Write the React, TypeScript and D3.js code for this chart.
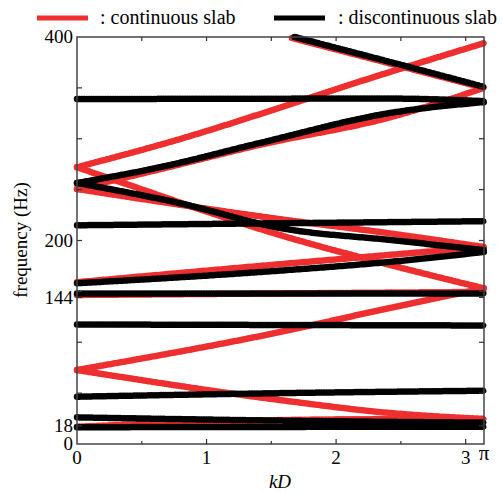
import { useEffect, useRef } from "react";
import * as d3 from "d3";

// axis ticks
const kLabels = [0, 1, 2, 3];
const kMinorTicks = [0.5, 1, 1.5, 2, 2.5, 3];
const fLabels = [0, 18, 144, 200, 400];
const fTicks = [50, 100, 150, 200, 250, 300, 350];

// continuous slab bands, [kD, frequency (Hz)]
const red1 = [[0, 17], [0.8, 21], [1.566, 23.5], [2.415, 24.5], [Math.PI, 24.6]];
const red2 = [[0, 72.7], [1.566, 43.2], [2.415, 30.5], [Math.PI, 24.6]];
const red3 = [[0, 72.7], [1.566, 110], [2.415, 133.7], [Math.PI, 153]];
const red4 = [[0, 272], [0.3, 259], [1.566, 205.4], [2.415, 176], [Math.PI, 153]];
const red5 = [[0, 146.5], [1.566, 148], [Math.PI, 149.5]];
const red6 = [[0, 159], [1.5, 176], [Math.PI, 193.6]];
const red7 = [[0, 272], [0.64, 294], [2.415, 365.6], [Math.PI, 394]];
const red8 = [[0, 250.6], [1.566, 221], [2.415, 207], [Math.PI, 193.6]];
const red9 = [[0, 250.6], [0.64, 270], [1.41, 294], [2.415, 321], [Math.PI, 350]];
const red10 = [[1.66, 399], [2.415, 374], [Math.PI, 350]];

// discontinuous slab bands
const black1 = [[0, 16.5], [1.566, 16.8], [Math.PI, 17]];
const black2 = [[0, 26.2], [1.566, 23], [Math.PI, 21]];
const black3 = [[0, 46.5], [1.566, 50], [Math.PI, 52.4]];
const black4 = [[0, 117.5], [1.566, 117], [Math.PI, 116.5]];
const black5 = [[0, 148], [1.566, 148], [Math.PI, 148]];
const black6 = [[0, 158], [1.41, 169], [2.415, 179], [Math.PI, 188.7]];
const black7 = [[0, 215], [1.566, 217], [Math.PI, 219]];
const black8 = [[0, 256.5], [0.795, 236.6], [1.566, 212.3], [2.415, 200.5], [Math.PI, 190.7]];
const black9 = [[0, 256.5], [0.64, 272], [1.41, 295.8], [2.415, 325.3], [Math.PI, 336]];
const black10 = [[1.68, 400], [2.415, 375.5], [Math.PI, 351]];
const black11 = [[0, 339], [2.415, 339.5], [Math.PI, 337]];

const redBands = [red1, red2, red3, red4, red5, red6, red7, red8, red9, red10];
const blackBands = [black1, black2, black3, black4, black5, black6, black7, black8, black9, black10, black11];

const W = 502;
const H = 493;
const RED = "#ef2f2f";
const FONT = "'Liberation Serif', 'Times New Roman', serif";

export default function App() {
  const ref = useRef<SVGSVGElement>(null);

  useEffect(() => {
    const svg = d3.select(ref.current);
    svg.selectAll("*").remove();

    const x = d3.scaleLinear().domain([0, Math.PI]).range([77, 484]);
    const y = d3.scaleLinear().domain([0, 400]).range([444, 37]);

    const line = d3
      .line<number[]>()
      .x((d) => x(d[0]))
      .y((d) => y(d[1]))
      .curve(d3.curveMonotoneX);

    // bands drawn as a solid core plus a row of dots, like dense markers
    const drawBands = (bands: number[][][], color: string) => {
      const g = svg.append("g").attr("fill", "none").attr("stroke", color).attr("stroke-linecap", "round");
      g.selectAll("path.core")
        .data(bands)
        .join("path")
        .attr("d", line)
        .attr("stroke-width", 5);
      g.selectAll("path.dots")
        .data(bands)
        .join("path")
        .attr("d", line)
        .attr("stroke-width", 6.5)
        .attr("stroke-dasharray", "0 2.4");
    };
    drawBands(redBands, RED);
    drawBands(blackBands, "#000");

    // frame
    svg
      .append("rect")
      .attr("x", 77)
      .attr("y", 37)
      .attr("width", 407)
      .attr("height", 407)
      .attr("fill", "none")
      .attr("stroke", "#444")
      .attr("stroke-width", 1.5);

    // ticks, all pointing inward
    const tk = svg.append("g").attr("stroke", "#333").attr("stroke-width", 1.2);
    [...fTicks, 18, 144].forEach((f) => {
      tk.append("line").attr("x1", 77).attr("x2", 82).attr("y1", y(f)).attr("y2", y(f));
      tk.append("line").attr("x1", 484).attr("x2", 479).attr("y1", y(f)).attr("y2", y(f));
    });
    kMinorTicks.forEach((k) => {
      const len = Number.isInteger(k) ? 5 : 3;
      tk.append("line").attr("x1", x(k)).attr("x2", x(k)).attr("y1", 444).attr("y2", 444 - len);
      tk.append("line").attr("x1", x(k)).attr("x2", x(k)).attr("y1", 37).attr("y2", 41);
    });

    // tick labels
    const labels = svg.append("g").attr("font-family", FONT).attr("font-size", 19).attr("fill", "#000");
    labels
      .selectAll("text.y")
      .data(fLabels)
      .join("text")
      .attr("x", 73)
      .attr("y", (d) => y(d))
      .attr("dy", "0.33em")
      .attr("text-anchor", "end")
      .text((d) => d);
    labels
      .selectAll("text.x")
      .data(kLabels)
      .join("text")
      .attr("x", (d) => x(d))
      .attr("y", 464)
      .attr("text-anchor", "middle")
      .text((d) => d);
    labels
      .append("text")
      .attr("x", x(Math.PI))
      .attr("y", 460)
      .attr("text-anchor", "middle")
      .attr("font-size", 21)
      .text("π");

    // axis titles
    svg
      .append("text")
      .attr("transform", "translate(27,240) rotate(-90)")
      .attr("text-anchor", "middle")
      .attr("font-family", FONT)
      .attr("font-size", 19)
      .text("frequency (Hz)");
    svg
      .append("text")
      .attr("x", 280)
      .attr("y", 488)
      .attr("text-anchor", "middle")
      .attr("font-family", FONT)
      .attr("font-size", 19)
      .attr("font-style", "italic")
      .text("kD");

    // legend
    const legend = svg.append("g").attr("font-family", FONT).attr("font-size", 20);
    legend.append("line").attr("x1", 37).attr("x2", 88).attr("y1", 18).attr("y2", 18).attr("stroke", RED).attr("stroke-width", 5);
    legend.append("text").attr("x", 100).attr("y", 24).text(": continuous slab");
    legend.append("line").attr("x1", 274).attr("x2", 325).attr("y1", 18).attr("y2", 18).attr("stroke", "#000").attr("stroke-width", 5);
    legend.append("text").attr("x", 338).attr("y", 24).text(": discontinuous slab");
  }, []);

  return (
    <svg
      ref={ref}
      width={W}
      height={H}
      style={{ position: "absolute", left: 0, top: 0, background: "#fff" }}
    />
  );
}
